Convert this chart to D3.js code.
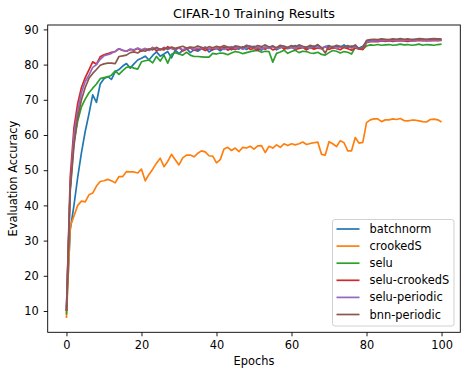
<!DOCTYPE html>
<html>
<head>
<meta charset="utf-8">
<script src="https://cdn.jsdelivr.net/npm/d3@7"></script>
<style>
  body { margin: 0; background: #fff; }
  svg { font-family: "DejaVu Sans", sans-serif; }
  .line { fill: none; stroke-width: 1.7; stroke-linejoin: round; }
</style>
</head>
<body>
<div class="container"></div>
<script>
// chart data
var epochs = d3.range(0, 101);
var seriesNames = ['batchnorm', 'crookedS', 'selu', 'selu-crookedS', 'selu-periodic', 'bnn-periodic'];
var seriesColors = ['#1f77b4', '#ff7f0e', '#2ca02c', '#d62728', '#9467bd', '#8c564b'];
var xTicks = [0, 20, 40, 60, 80, 100];
var yTicks = [10, 20, 30, 40, 50, 60, 70, 80, 90];

var batchnorm = [
    10, 33, 40, 48, 55, 61, 66, 71.4, 69.3, 74.5,
    76, 76.6, 75.8, 78, 78.6, 79.6, 80.3, 79, 80.2, 81.3,
    81.8, 82.4, 81.3, 82.6, 83.6, 82.4, 83, 83.7, 81.9, 84.1,
    83.1, 84, 84.6, 83.4, 84.2, 83.8, 84.5, 84.9, 83.6, 84.3,
    84.6, 83.9, 84.7, 85, 84.2, 84.8, 84.4, 85.1, 84.3, 84.9,
    85.2, 84.6, 84.1, 85, 84.7, 85.3, 84.2, 84.8, 85.1, 84.5,
    84.9, 85.4, 84.6, 85, 84.3, 85.2, 84.8, 85.5, 84.6, 85.1,
    85.4, 84.7, 85.2, 84.9, 85.6, 84.8, 85.3, 85, 84.7, 85.2,
    86.5, 86.8, 87, 86.9, 87.1, 87, 86.8, 87.2, 87, 87.1,
    87, 86.9, 87.1, 87.2, 87, 86.9, 87.1, 87, 87.2, 87.1, 87
];
var crookedS = [
    8, 34, 37, 40, 41.2, 41, 43, 43.5, 45.5, 46.8,
    47, 47.4, 47, 46.4, 48.2, 48.2, 49.6, 49.5, 49.5, 49.2,
    50.3, 47, 48.8, 50.3, 52, 53.4, 51, 52.5, 54.5, 53,
    51.5, 53.5, 54.3, 54.3, 53.8, 54.8, 55.5, 55.2, 54.1, 54,
    52.1, 53, 56, 56.5, 55.6, 56.3, 55.3, 56.5, 56.3, 56.8,
    56, 56.9, 57, 55, 56.8, 56.3, 57.2, 56.5, 57.5, 57,
    57.5, 57.2, 57.5, 58, 57.3, 57.6, 57.8, 58, 54.5, 54.3,
    58.1, 57.5, 56.7, 58.4, 57.8, 55.5, 55.5, 59.3, 57.7, 57.9,
    63.5, 64.3, 64.6, 64.6, 63.8, 64.3, 64.3, 64.6, 64.4, 64.7,
    64.1, 64, 64.2, 64.2, 64, 63.8, 63.7, 64.4, 64.5, 64.3, 63.7
];
var selu = [
    9, 45, 58, 64, 68, 70.2, 72, 73.3, 74.5, 76,
    76.3, 76.5, 77, 78.2, 77.2, 78.3, 79.2, 79.4, 79, 78.7,
    80.8, 81.1, 81.3, 80.5, 82.3, 81, 82.7, 80.4, 82.9, 83.4,
    83, 82.7, 83.5, 82.7, 82.3, 82.3, 82.2, 82.1, 82.1, 83.2,
    83, 83.3, 83.2, 82.8, 83.3, 83.7, 83.5, 83.1, 83.4, 83.7,
    83.9, 84, 83.5, 83.8, 83.7, 80.7, 83.2, 83.6, 84.1, 83.2,
    83.7, 84.1, 83.4, 83.8, 83.7, 83.3, 83.2, 83.5, 82.9, 82.7,
    83.4, 84, 83.8, 83.3, 83.7, 83.5, 83, 84.9, 84.5, 84.3,
    85.3, 85.6, 85.5, 85.7, 85.5, 85.6, 85.7, 85.5, 85.6, 85.8,
    85.6, 85.7, 85.5, 85.6, 85.8, 85.5, 85.7, 85.6, 85.5, 85.7, 85.8
];
var seluCrookedS = [
    10, 48, 62, 69, 73.5, 76.3, 78.5, 80.8, 80.1, 82.2,
    82.8, 83.1, 83.5, 83.7, 84.5, 84, 83.8, 84.3, 84.1, 84.6,
    83.8, 84.5, 84.1, 84.9, 83.9, 84.4, 84.2, 85.1, 84.6, 84.2,
    84.8, 83.9, 84.4, 84.7, 84.1, 84.3, 84.6, 84, 84.5, 84.2,
    84.7, 84.4, 84.9, 84.1, 84.6, 84.3, 84.8, 84.5, 85.2, 84.3,
    84.6, 84.1, 84.8, 84.4, 84.9, 84.2, 84.5, 85.3, 84.4, 84.7,
    85, 84.3, 84.6, 84.9, 84.2, 84.8, 84.4, 84.7, 84.5, 85.1,
    84.3, 84.8, 84.6, 84.2, 84.9, 84.5, 84.1, 84.7, 84.4, 84.3,
    86.2, 86.5, 86.6, 86.5, 86.7, 86.6, 86.8, 86.6, 86.7, 86.8,
    86.7, 86.6, 86.8, 86.7, 86.9, 86.8, 86.7, 86.8, 86.9, 86.8, 86.9
];
var seluPeriodic = [
    11, 45, 60, 67, 72, 75.2, 77, 79.2, 80, 81.5,
    82.5, 82.8, 83.2, 83.8, 84.5, 84.1, 83.8, 84.4, 84.2, 84.7,
    84.2, 84.6, 84, 84.8, 84.5, 84.1, 84.9, 84.3, 84.7, 84.4,
    84.8, 84.2, 84.6, 84.9, 84.3, 84.7, 84.5, 85, 84.4, 84.8,
    84.5, 84.9, 84.3, 84.7, 85.1, 84.6, 84.9, 84.4, 84.8, 85.2,
    84.7, 85, 84.4, 84.9, 84.6, 85.1, 84.5, 84.8, 85.2, 84.7,
    84.9, 84.5, 85.2, 84.8, 85, 84.6, 85.3, 84.9, 84.7, 85.1,
    84.8, 85.2, 84.6, 85, 84.9, 85.3, 84.7, 85, 84.5, 84.8,
    86.4, 86.6, 86.8, 86.7, 86.9, 86.8, 87, 86.9, 86.8, 87,
    86.9, 87, 86.8, 86.9, 87.1, 86.9, 87, 86.8, 87, 86.9, 87
];
var bnnPeriodic = [
    10, 44, 57, 65, 70, 73.5, 76.1, 77.5, 78.6, 79.8,
    80.2, 80.4, 80.4, 80.3, 82.3, 82.5, 82.7, 83.4, 83.6, 83.3,
    84, 83.8, 84.5, 84.2, 84.9, 84.3, 84.7, 84.5, 85, 84.6,
    84.9, 85.2, 84.7, 85, 84.8, 85.3, 84.9, 84.6, 85.1, 84.8,
    85.2, 84.9, 85.4, 85, 84.7, 85.3, 85.1, 84.8, 85.5, 85.2,
    84.9, 85.4, 85.1, 85.6, 85, 85.3, 84.8, 85.5, 85.2, 84.9,
    85.4, 85, 85.6, 85.2, 84.9, 85.5, 85.1, 85.7, 84.8, 83.3,
    85.3, 85, 85.5, 85.2, 84.9, 85.4, 85, 85.6, 84.5, 84.8,
    86.9, 87.1, 87.2, 87.1, 87.3, 87.2, 87.1, 87.3, 87.2, 87.4,
    87.2, 87.3, 87.1, 87.2, 87.4, 87.3, 87.2, 87.3, 87.4, 87.3, 87.3
];
var seriesValues = [batchnorm, crookedS, selu, seluCrookedS, seluPeriodic, bnnPeriodic];

var WIDTH = 468, HEIGHT = 376;
var PLOT = {left: 47.7, top: 25, right: 460.3, bottom: 332.3};
var FONT = '11.4px';

var translate = function (x, y) {
    return 'translate(' + x + ',' + y + ')';
};

var drawChart = function () {
    var svg = d3.select('.container').append('svg')
        .attr('width', WIDTH)
        .attr('height', HEIGHT);

    var xScale = d3.scaleLinear().domain([-5, 105]).range([PLOT.left, PLOT.right]);
    var yScale = d3.scaleLinear().domain([3.95, 91.25]).range([PLOT.bottom, PLOT.top]);

    // lines
    var line = d3.line()
        .x(function (d, i) { return xScale(epochs[i]); })
        .y(function (d) { return yScale(d); });

    svg.append('defs').append('clipPath').attr('id', 'clip')
        .append('rect')
        .attr('x', PLOT.left).attr('y', PLOT.top)
        .attr('width', PLOT.right - PLOT.left)
        .attr('height', PLOT.bottom - PLOT.top);

    svg.append('g')
        .attr('clip-path', 'url(#clip)')
        .selectAll('.line')
        .data(seriesValues)
        .enter().append('path')
        .attr('class', 'line')
        .attr('d', line)
        .attr('stroke', function (d, i) { return seriesColors[i]; });

    // axes
    var xAxis = d3.axisBottom(xScale).tickValues(xTicks).tickSize(4).tickPadding(4.5).tickSizeOuter(0);
    var yAxis = d3.axisLeft(yScale).tickValues(yTicks).tickSize(4).tickPadding(5).tickSizeOuter(0);

    var gx = svg.append('g').attr('transform', translate(0, PLOT.bottom)).call(xAxis);
    var gy = svg.append('g').attr('transform', translate(PLOT.left, 0)).call(yAxis);
    [gx, gy].forEach(function (g) {
        g.select('.domain').remove();
        g.selectAll('.tick line').attr('stroke', '#000').attr('stroke-width', 0.9);
        g.selectAll('.tick text').attr('fill', '#000').style('font-size', FONT)
            .style('font-family', '"DejaVu Sans", sans-serif');
    });

    svg.append('rect')
        .attr('x', PLOT.left).attr('y', PLOT.top)
        .attr('width', PLOT.right - PLOT.left)
        .attr('height', PLOT.bottom - PLOT.top)
        .attr('fill', 'none')
        .attr('stroke', '#000')
        .attr('stroke-width', 0.9);

    // titles
    var midX = (PLOT.left + PLOT.right) / 2;
    svg.append('text')
        .attr('x', midX).attr('y', 18)
        .attr('text-anchor', 'middle')
        .style('font-size', '12.8px')
        .text('CIFAR-10 Training Results');

    svg.append('text')
        .attr('x', midX).attr('y', 365)
        .attr('text-anchor', 'middle')
        .style('font-size', FONT)
        .text('Epochs');

    svg.append('text')
        .attr('transform', translate(13, (PLOT.top + PLOT.bottom) / 2) + ' rotate(-90)')
        .attr('text-anchor', 'middle')
        .attr('dy', '0.35em')
        .style('font-size', FONT)
        .text('Evaluation Accuracy');

    // legend
    var legend = svg.append('g').attr('transform', translate(332.5, 219.5));
    legend.append('rect')
        .attr('width', 121.5).attr('height', 106.5)
        .attr('rx', 2.5)
        .attr('fill', '#fff').attr('fill-opacity', 0.8)
        .attr('stroke', '#ccc').attr('stroke-width', 0.9);

    var items = legend.selectAll('.item')
        .data(seriesNames)
        .enter().append('g')
        .attr('class', 'item')
        .attr('transform', function (d, i) { return translate(0, 9.5 + i * 17.1); });
    items.append('line')
        .attr('x1', 4).attr('x2', 27)
        .attr('stroke', function (d, i) { return seriesColors[i]; })
        .attr('stroke-width', 1.7);
    items.append('text')
        .attr('x', 37).attr('dy', '0.35em')
        .style('font-size', FONT)
        .text(function (d) { return d; });
};

window.onload = drawChart;
</script>
</body>
</html>
